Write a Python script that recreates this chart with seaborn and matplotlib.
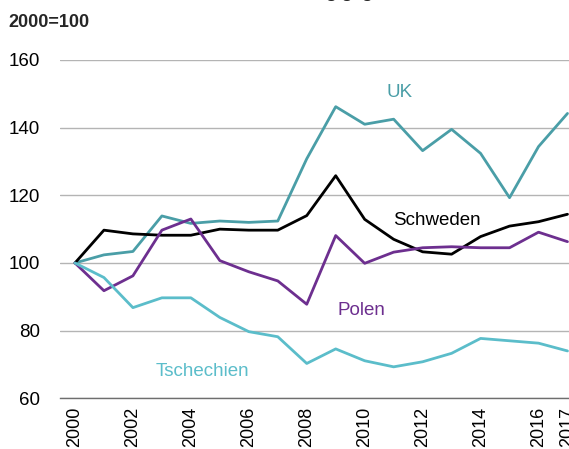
import pandas as pd
import matplotlib.pyplot as plt
import seaborn as sns

# index values, 2000=100
years = list(range(2000, 2018))
uk = [100, 102.4, 103.4, 113.9, 111.7, 112.4, 112.0, 112.4, 130.8, 146.2,
      141.0, 142.5, 133.2, 139.5, 132.4, 119.3, 134.4, 144.2]
schweden = [100, 109.7, 108.6, 108.2, 108.2, 110.0, 109.7, 109.7, 114.0, 125.8,
            112.9, 107.0, 103.3, 102.6, 107.8, 110.9, 112.2, 114.4]
polen = [100, 91.8, 96.2, 109.7, 113.0, 100.7, 97.4, 94.7, 87.8, 108.1,
         99.9, 103.2, 104.5, 104.8, 104.5, 104.5, 109.1, 106.3]
tschechien = [100, 95.7, 86.8, 89.7, 89.7, 83.9, 79.7, 78.2, 70.3, 74.6,
              71.1, 69.3, 70.8, 73.3, 77.7, 77.0, 76.3, 74.0]
countries = ["UK", "Schweden", "Polen", "Tschechien"]
tick_years = [2000, 2002, 2004, 2006, 2008, 2010, 2012, 2014, 2016, 2017]

colors = {"UK": "#4a9ea7", "Schweden": "#000000",
          "Polen": "#6d2f8f", "Tschechien": "#5bbdca"}

frames = []
for name, vals in zip(countries, [uk, schweden, polen, tschechien]):
    frames.append(pd.DataFrame({"Jahr": years, "Index": vals, "Land": name}))
df = pd.concat(frames, ignore_index=True)

sns.set_theme(style="white")
plt.rcParams["font.family"] = ["Liberation Sans", "DejaVu Sans"]

fig = plt.figure(figsize=(5.69, 4.49), dpi=100)
ax = fig.add_axes([0.1063, 0.1129, 0.9165, 0.7535])

sns.lineplot(data=df, x="Jahr", y="Index", hue="Land", palette=colors,
             hue_order=countries, linewidth=2.0, legend=False, ax=ax)

ax.set_xlim(1999.5, 2017.5)
ax.set_ylim(60, 160)
ax.set_yticks([60, 80, 100, 120, 140, 160])
ax.yaxis.grid(True, color="#b4b4b4", linewidth=1.0)
ax.set_axisbelow(True)

ax.set_xticks(tick_years)
ax.set_xticklabels([str(y) for y in tick_years], rotation=90)
ax.set_xticks([y + 0.5 for y in range(1999, 2018)], minor=True)
ax.tick_params(axis="x", which="major", length=0, pad=6, labelsize=13, colors="black")
ax.tick_params(axis="x", which="minor", length=4, width=1, color="#6e6e6e", direction="out")
ax.tick_params(axis="y", length=0, pad=15, labelsize=13.5, colors="black")

for side in ["top", "right", "left"]:
    ax.spines[side].set_visible(False)
ax.spines["bottom"].set_color("#6e6e6e")
ax.spines["bottom"].set_linewidth(1.0)
ax.set_xlabel("")
ax.set_ylabel("")

# in-chart series labels
ax.text(2011.2, 150.5, "UK", color=colors["UK"], fontsize=13.5, ha="center", va="center")
ax.text(2012.5, 112.5, "Schweden", color=colors["Schweden"], fontsize=13.5, ha="center", va="center")
ax.text(2009.9, 86.0, "Polen", color=colors["Polen"], fontsize=13.5, ha="center", va="center")
ax.text(2004.4, 68.0, "Tschechien", color=colors["Tschechien"], fontsize=13.5, ha="center", va="center")

# title, cut off at the top edge as in the original
fig.text(0.05, 0.997, "Reale Lohnstückkosten: Entwicklung gegenüber dem Jahr 2000",
         fontsize=12.5, fontweight="bold", va="bottom", ha="left")
fig.text(0.014, 0.949, "2000=100", fontsize=13, fontweight="bold", va="center", ha="left")

fig.savefig("out.png", dpi=100)
